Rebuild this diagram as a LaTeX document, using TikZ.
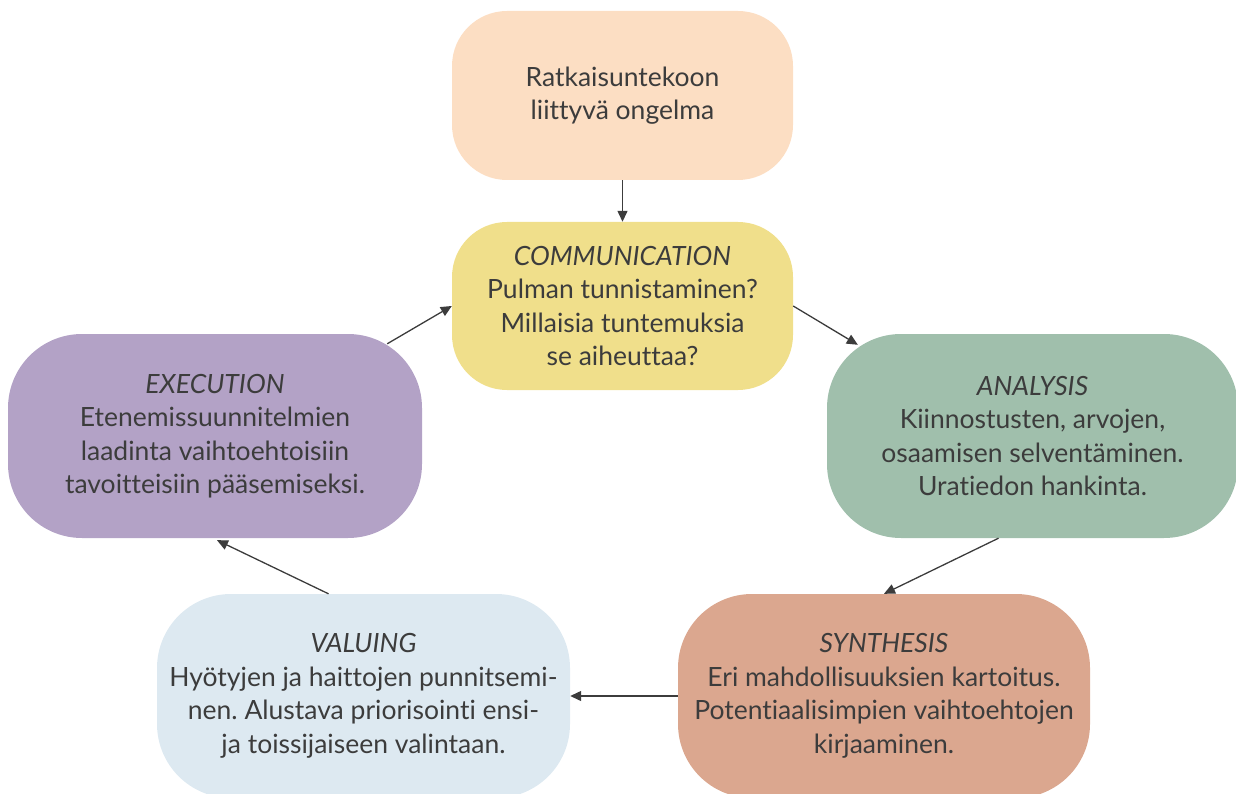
\documentclass[tikz,border=0pt]{standalone}
\usepackage{fontspec}
\setmainfont[Ligatures={NoCommon}]{Lato}
\usetikzlibrary{arrows.meta,calc}
\frenchspacing
\definecolor{cpeach}{HTML}{FCDEC3}
\definecolor{cyellow}{HTML}{F0DF8B}
\definecolor{cgreen}{HTML}{A0BFAC}
\definecolor{csalmon}{HTML}{DBA78F}
\definecolor{cblue}{HTML}{DDE9F1}
\definecolor{cpurple}{HTML}{B3A2C6}
\definecolor{ctext}{HTML}{3C3C3C}
\tikzset{
  stagebox/.style={rectangle, rounded corners=#1, inner sep=0pt, align=center,
    text=ctext, font=\fontsize{26.5}{33.5}\selectfont\frenchspacing},
  conn/.style={draw=ctext, line width=1.3pt, -{Triangle[length=11pt,width=10pt]}}
}
\begin{document}
\begin{tikzpicture}[x=1pt,y=-1pt]
\useasboundingbox (0,0) rectangle (1236,794);
\clip (0,0) rectangle (1236,794);
\node[stagebox=55pt, fill=cpeach, minimum width=341pt, minimum height=169pt] (top) at (622.5,95.5)
  {Ratkaisuntekoon\\liittyvä ongelma};
\node[stagebox=55pt, fill=cyellow, minimum width=341pt, minimum height=168pt] (comm) at (622.5,306)
  {\textit{COMMUNICATION}\\Pulman tunnistaminen?\\Millaisia tuntemuksia\\se aiheuttaa?};
\node[stagebox=74pt, fill=cgreen, minimum width=411pt, minimum height=204pt] (ana) at (1032.5,436)
  {\textit{ANALYSIS}\\Kiinnostusten, arvojen,\\osaamisen selventäminen.\\Uratiedon hankinta.};
\node[stagebox=74pt, fill=cpurple, minimum width=414pt, minimum height=204pt] (exe) at (215,436)
  {\textit{EXECUTION}\\Etenemissuunnitelmien\\laadinta vaihtoehtoisiin\\tavoitteisiin pääsemiseksi.};
\node[stagebox=74pt, fill=cblue, minimum width=413pt, minimum height=204pt] (val) at (363.5,696)
  {\textit{VALUING}\\Hyötyjen ja haittojen punnitsemi-\\nen. Alustava priorisointi ensi-\\ja toissijaiseen valintaan.};
\node[stagebox=74pt, fill=csalmon, minimum width=412pt, minimum height=204pt] (syn) at (884,696)
  {\textit{SYNTHESIS}\\Eri mahdollisuuksien kartoitus.\\Potentiaalisimpien vaihtoehtojen\\kirjaaminen.};
\draw[conn] (top.south) -- (comm.north);
\draw[conn] (comm.east) -- ($(ana.north west)+(31,11)$);
\draw[conn] ($(ana.south)+(-34,0)$) -- (syn.north);
\draw[conn] (syn.west) -- (val.east);
\draw[conn] ($(val.north)+(-35,0)$) -- ($(exe.south)+(2,2)$);
\draw[conn] ($(exe.north east)+(-35,10)$) -- (comm.west);
\end{tikzpicture}
\end{document}
